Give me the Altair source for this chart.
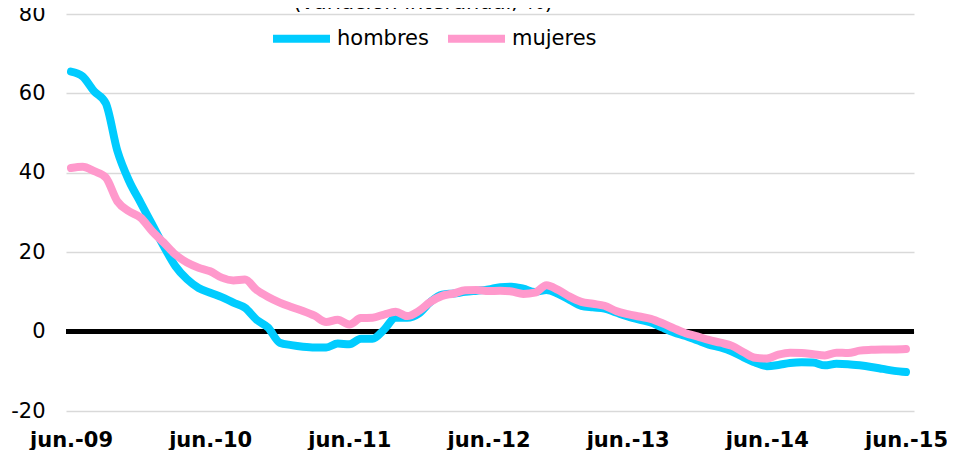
import altair as alt
import pandas as pd

months = list(range(73))
hombres = [65.5, 64.3, 60.5, 57.5, 45.5, 38.0, 32.5, 27.0, 21.5, 16.5,
           13.2, 11.0, 9.8, 8.7, 7.3, 6.0, 3.0, 1.0, -2.8, -3.4,
           -3.8, -4.0, -4.0, -3.0, -3.2, -1.8, -1.8, 0.5, 3.5, 3.5,
           4.6, 7.5, 9.3, 9.6, 10.0, 10.3, 10.6, 11.2, 11.3, 10.8,
           10.0, 10.5, 9.5, 8.0, 6.5, 6.1, 5.8, 4.8, 3.8, 3.0,
           2.3, 1.0, -0.2, -1.1, -2.2, -3.3, -4.0, -5.0, -6.5, -7.8,
           -8.7, -8.4, -7.9, -7.7, -7.8, -8.5, -8.1, -8.2, -8.5, -8.9,
           -9.4, -9.9, -10.2]
mujeres = [41.2, 41.5, 40.4, 38.8, 32.8, 30.3, 28.7, 25.3, 22.4, 19.4,
           17.4, 16.1, 15.2, 13.6, 12.9, 13.1, 10.5, 8.7, 7.3, 6.2,
           5.2, 4.0, 2.4, 3.0, 1.8, 3.4, 3.5, 4.3, 5.0, 3.9,
           5.2, 7.5, 9.0, 9.6, 10.4, 10.5, 10.2, 10.3, 10.1, 9.5,
           9.8, 11.7, 10.5, 8.8, 7.5, 7.0, 6.5, 5.2, 4.4, 3.8,
           3.2, 2.1, 0.8, -0.4, -1.2, -2.1, -2.8, -3.6, -5.2, -6.6,
           -6.8, -5.8, -5.3, -5.4, -5.7, -6.0, -5.3, -5.4, -4.8, -4.6,
           -4.5, -4.5, -4.4]
tick_values = [0, 12, 24, 36, 48, 60, 72]
tick_labels = ["jun.-09", "jun.-10", "jun.-11", "jun.-12", "jun.-13", "jun.-14", "jun.-15"]
y_ticks = [-20, 0, 20, 40, 60, 80]
series = ["hombres", "mujeres"]
colors = ["#00CCFF", "#FF99CC"]
title_text = "(variación interanual, %)"

df = pd.DataFrame({
    "m": months * 2,
    "v": hombres + mujeres,
    "serie": [series[0]] * len(hombres) + [series[1]] * len(mujeres),
})

label_expr = "{" + ",".join(f"'{v}':'{l}'" for v, l in zip(tick_values, tick_labels)) + "}[datum.value]"

FONT = "DejaVu Sans"

x_enc = alt.X(
    "m:Q",
    scale=alt.Scale(domain=[-0.431, 72.69], nice=False, zero=False),
    axis=alt.Axis(values=tick_values, labelExpr=label_expr, grid=False, domain=False,
                  ticks=False, labelFontSize=21, labelFontWeight="bold", labelFont=FONT,
                  labelColor="black", labelPadding=18, labelFlush=False,
                  labelOverlap=False, title=None),
)
y_enc = alt.Y(
    "v:Q",
    scale=alt.Scale(domain=[-20, 80], nice=False, zero=False),
    axis=alt.Axis(values=y_ticks, labelExpr="datum.value + ''", grid=True,
                  gridColor="#d9d9d9", gridWidth=1.5,
                  domain=False, ticks=False, labelFontSize=21, labelFont=FONT,
                  labelColor="black", labelPadding=21, title=None),
)

zero = alt.Chart(pd.DataFrame({"v": [0]})).mark_rule(color="black", strokeWidth=5).encode(
    y=alt.Y("v:Q")
)

lines = alt.Chart(df).mark_line(
    strokeWidth=8, strokeCap="round", strokeJoin="round", interpolate="monotone"
).encode(
    x=x_enc,
    y=y_enc,
    color=alt.Color(
        "serie:N",
        scale=alt.Scale(domain=series, range=colors),
        legend=alt.Legend(orient="none", legendX=203, legendY=-8, direction="horizontal",
                          symbolType="stroke", symbolSize=3249, symbolStrokeWidth=8,
                          labelFontSize=21, labelFont=FONT, labelColor="black",
                          labelOffset=3, columnPadding=3, padding=0, title=None,
                          labelLimit=300),
    ),
    order=alt.Order("serie:N"),
)

title = alt.Chart(pd.DataFrame({"t": [title_text]})).mark_text(
    fontSize=21, font=FONT, align="center", baseline="alphabetic", color="black"
).encode(text="t:N", x=alt.value(357), y=alt.value(-5))

chart = alt.layer(zero, lines, title).properties(
    width=848, height=397,
    padding={"left": 58, "top": 6, "right": 33, "bottom": 39},
    autosize=alt.AutoSizeParams(type="none"),
).configure_view(stroke=None)

chart.save("out.html", embed_options={"renderer": "svg", "actions": False})
